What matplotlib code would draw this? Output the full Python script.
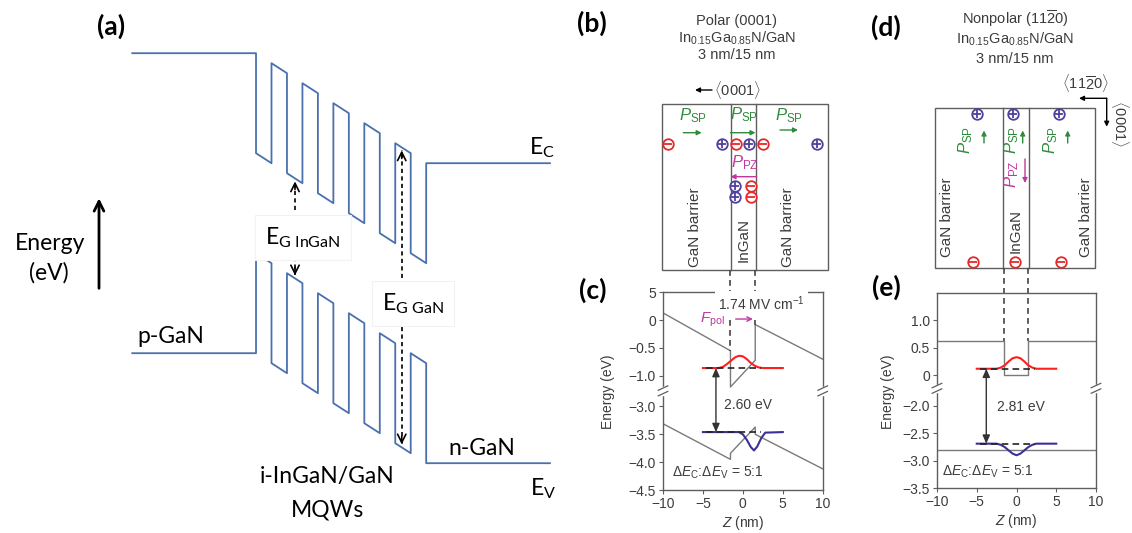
import matplotlib
matplotlib.use("Agg")
import matplotlib.pyplot as plt
from matplotlib import font_manager
from matplotlib.patches import Rectangle

W, H = 1132, 533

# (a) schematic p-i-n structure: layer boundaries, well flags, GaN Ec at each boundary
a_bounds = [-8, 0, 1, 2, 3, 4, 5, 6, 7, 8, 9, 10, 11, 19]
a_is_well = [0, 1, 0, 1, 0, 1, 0, 1, 0, 1, 0, 1, 0]
a_gan_ec = [0.0, 0.0, -0.1, -0.2, -0.3, -0.4, -0.5, -0.6, -0.7, -0.8, -0.9, -1.0, -1.1, -1.1]
a_gap_gan = 3.0
a_dec = 1.0
a_dev = 1.0
a_eg_ingan_x = 2.52
a_eg_gan_x = 9.42

# (c) polar (0001) well, z in nm, energy in eV
c_cb_z = [-10, -1.55, -1.55, 1.55, 1.55, 10]
c_cb_e = [0.13, -0.55, -1.20, -0.72, -0.08, -0.70]
c_vb_z = [-10, -1.55, -1.55, 1.55, 1.55, 10]
c_vb_e = [-3.31, -3.95, -3.84, -3.37, -3.50, -4.12]
c_e_level = -0.86
c_gap = 2.60
c_psi_e_z = [-5, -3, -2.5, -2, -1.5, -1, -0.5, 0, 0.5, 1, 1.5, 2, 2.5, 5]
c_psi_e = [-0.86, -0.86, -0.84, -0.79, -0.73, -0.67, -0.64, -0.65, -0.70, -0.77, -0.82, -0.85, -0.86, -0.86]
c_psi_h_z = [-5, -0.5, 0, 0.5, 1.0, 1.4, 1.8, 2.3, 2.8, 5]
c_psi_h = [-3.46, -3.46, -3.50, -3.60, -3.73, -3.79, -3.72, -3.57, -3.47, -3.46]
c_ticks = [0.5, 0, -0.5, -1.0, -3.0, -3.5, -4.0, -4.5]
c_ticklabels = ["5", "0", "\u22120.5", "\u22121.0", "\u22123.0", "\u22123.5", "\u22124.0", "\u22124.5"]

# (e) nonpolar (11-20) well
e_cb_z = [-10, -1.6, -1.6, 1.5, 1.5, 10]
e_cb_e = [0.63, 0.63, 0.0, 0.0, 0.63, 0.63]
e_vb_z = [-10, 10]
e_vb_e = [-2.81, -2.81]
e_e_level = 0.12
e_gap = 2.81
e_psi_z = [-5, -2.5, -2, -1.5, -1, -0.5, 0, 0.5, 1, 1.5, 2, 2.5, 5]
e_psi_e = [0.12, 0.12, 0.14, 0.18, 0.25, 0.31, 0.33, 0.31, 0.25, 0.18, 0.14, 0.12, 0.12]
e_psi_h = [-2.69, -2.69, -2.71, -2.75, -2.81, -2.87, -2.90, -2.87, -2.81, -2.75, -2.71, -2.69, -2.69]
e_ticks = [1.0, 0.5, 0, -2.0, -2.5, -3.0, -3.5]
e_ticklabels = ["1.0", "0.5", "0", "\u22122.0", "\u22122.5", "\u22123.0", "\u22123.5"]

# polarization charges in the two layer sketches (sign: +1 / -1)
b_charge_x = [668.3, 721.7, 735.7, 749.3, 763.3, 817.3, 735.0, 735.0, 750.7, 750.7]
b_charge_y = [144, 144, 144, 144, 144, 144, 186, 196.7, 186, 196.7]
b_charge_sign = [-1, 1, -1, 1, -1, 1, 1, 1, -1, -1]
d_charge_x = [976.7, 1013.3, 1059, 973, 1015, 1061]
d_charge_y = [114.3, 114.3, 114.3, 261.7, 261.7, 261.7]
d_charge_sign = [1, 1, 1, -1, -1, -1]

BREAK_SHIFT = 1.45   # lower band is drawn shifted up past the axis break

installed = {f.name for f in font_manager.fontManager.ttflist}
NARROW = "Liberation Sans Narrow" if "Liberation Sans Narrow" in installed else "Liberation Sans"
A_FONT = "Lato"

plt.rcParams["font.family"] = ["Liberation Sans", "DejaVu Sans"]
plt.rcParams["mathtext.fontset"] = "custom"
plt.rcParams["mathtext.rm"] = "Liberation Sans"
plt.rcParams["mathtext.it"] = "Liberation Sans:italic"
plt.rcParams["mathtext.bf"] = "Liberation Sans:bold"

BAND = "#4a70ad"
FRAME = "#5e5e5e"
LINE = "#7a7a7a"
TXT = "#3c3c3c"
GREEN = "#2f8a3c"
MAGENTA = "#c2379f"
RED_Q = "#e5292b"
BLUE_Q = "#50409e"
PSI_R = "#ff1f1f"
PSI_B = "#3b2f9a"


def brk(vals):
    return [v if v > -1.6 else v + BREAK_SHIFT for v in vals]


def arrow(ax, x0, y0, x1, y1, color, lw=1.0, style="-|>", ms=8, **kw):
    ax.annotate("", xy=(x1, y1), xytext=(x0, y0),
                arrowprops=dict(arrowstyle=style, color=color, lw=lw,
                                shrinkA=0, shrinkB=0, mutation_scale=ms), **kw)


def charge(ax, x, y, sign):
    col = RED_Q if sign < 0 else BLUE_Q
    ax.plot(x, y, "o", ms=7.6, mfc="white", mec=col, mew=1.3, zorder=5)
    ax.plot(x, y, "_" if sign < 0 else "+", ms=5.4, mec=col, mew=1.3, zorder=6)


def a_edges():
    xs, ec, ev = [], [], []
    for i, w in enumerate(a_is_well):
        for j in (i, i + 1):
            xs.append(a_bounds[j])
            ec.append(a_gan_ec[j] - a_dec * w)
            ev.append(a_gan_ec[j] - a_gap_gan + a_dev * w)
    return xs, ec, ev


def a_level(x, band):
    for i, w in enumerate(a_is_well):
        x0, x1 = a_bounds[i], a_bounds[i + 1]
        if x0 <= x <= x1:
            t = (x - x0) / (x1 - x0)
            ec = a_gan_ec[i] + t * (a_gan_ec[i + 1] - a_gan_ec[i])
            return ec - a_dec * w if band == "c" else ec - a_gap_gan + a_dev * w


def dashed_arrow(ax, x, y0, y1):
    ax.plot([x, x], [y0, y1], color="k", lw=1.2, ls=(0, (2.5, 2)), zorder=3)
    d = 0.08 if y1 > y0 else -0.08
    arrow(ax, x, y1 - d, x, y1, "k", lw=1.2, style="->,head_length=0.6,head_width=0.3", ms=10)


fig = plt.figure(figsize=(W / 100, H / 100), dpi=100)
ax0 = fig.add_axes([0, 0, 1, 1])
ax0.set_xlim(0, W)
ax0.set_ylim(H, 0)
ax0.axis("off")

# ---------------- (a) ----------------
axa = fig.add_axes([0, 0, 560 / W, 1])
axa.set_xlim(-16.55, 19.65)
axa.set_ylim(-4.798, 0.532)
axa.axis("off")
xs, ec, ev = a_edges()
axa.plot(xs, ec, color=BAND, lw=1.3)
axa.plot(xs, ev, color=BAND, lw=1.3)

big = dict(family=A_FONT, fontsize=16.5, color="k")
tip_c = a_level(a_eg_ingan_x, "c")
tip_v = a_level(a_eg_ingan_x, "v")
dashed_arrow(axa, a_eg_ingan_x, -1.57, tip_c - 0.03)
dashed_arrow(axa, a_eg_ingan_x, -2.04, tip_v + 0.03)
axa.text(3.04, -1.908, r"$\mathregular{E_{G\ InGaN}}$", ha="center", va="baseline", zorder=4,
         bbox=dict(boxstyle="square,pad=0.45", fc="white", ec="#f2f2f2", lw=0.8), **big)
tip_c = a_level(a_eg_gan_x, "c")
tip_v = a_level(a_eg_gan_x, "v")
dashed_arrow(axa, a_eg_gan_x, -2.25, tip_c - 0.03)
dashed_arrow(axa, a_eg_gan_x, -2.735, tip_v + 0.03)
axa.text(10.15, -2.568, r"$\mathregular{E_{G\ GaN}}$", ha="center", va="baseline", zorder=4,
         bbox=dict(boxstyle="square,pad=0.45", fc="white", ec="#f2f2f2", lw=0.8), **big)

arrow(axa, -10.15, -2.351, -10.15, -1.451, "k", lw=2.0,
      style="->,head_length=0.7,head_width=0.35", ms=10)
axa.text(-13.32, -1.968, "Energy", ha="center", va="baseline", **big)
axa.text(-13.38, -2.268, "(eV)", ha="center", va="baseline", **big)
axa.text(-9.34, 0.267, "(a)", ha="center", va="center", family=A_FONT,
         fontsize=19, fontweight="bold")
axa.text(-7.66, -2.898, "p-GaN", ha="left", va="baseline", **big)
axa.text(12.41, -4.018, "n-GaN", ha="left", va="baseline", **big)
axa.text(17.62, -1.008, r"$\mathregular{E_C}$", ha="left", va="baseline", **big)
axa.text(17.70, -4.418, r"$\mathregular{E_V}$", ha="left", va="baseline", **big)
axa.text(4.62, -4.295, "i-InGaN/GaN", ha="center", va="baseline", **big)
axa.text(4.62, -4.638, "MQWs", ha="center", va="baseline", **big)

# ---------------- (b) / (d) layer sketches ----------------
hdr = dict(ha="center", va="center", color=TXT, fontsize=10.5, family=[NARROW, "DejaVu Sans"])
lab = dict(ha="center", va="center", color=TXT, fontsize=11, family=[NARROW, "DejaVu Sans"],
           rotation=90)
pol = dict(ha="center", va="center", fontsize=12)

ax0.add_patch(Rectangle((661.7, 104), 166.3, 166, fill=False, ec=FRAME, lw=1.0))
for x in (730.5, 755.5):
    ax0.plot([x, x], [104, 270], color=FRAME, lw=1.0)
ax0.text(736.7, 20.7, "Polar (0001)", **hdr)
ax0.text(736.7, 38.3, r"In$_\mathregular{0.15}$Ga$_\mathregular{0.85}$N/GaN", **hdr)
ax0.text(736.7, 55, "3 nm/15 nm", **hdr)
arrow(ax0, 712, 90, 695, 90, "k", lw=1.0, ms=7)
ax0.text(714, 90, r"$\langle$0001$\rangle$", ha="left", va="center", color=TXT,
         fontsize=10.5, family=[NARROW, "DejaVu Sans"])
for x, y in ((693, 116), (744, 115), (789, 116)):
    ax0.text(x, y, r"$\mathit{P}_\mathregular{SP}$", color=GREEN, **pol)
arrow(ax0, 683.3, 132.7, 701.7, 132.7, GREEN, ms=7)
arrow(ax0, 730.5, 132.7, 755.5, 132.7, GREEN, ms=7)
arrow(ax0, 780, 130, 798, 130, GREEN, ms=7)
ax0.text(744.7, 163, r"$\mathit{P}_\mathregular{PZ}$", color=MAGENTA, **pol)
arrow(ax0, 756.7, 176.7, 730.5, 176.7, MAGENTA, ms=7)
for x, y, s in zip(b_charge_x, b_charge_y, b_charge_sign):
    charge(ax0, x, y, s)
ax0.text(695, 226.7, "GaN barrier", **lab)
ax0.text(743.3, 240, "InGaN", **lab)
ax0.text(788.3, 226.7, "GaN barrier", **lab)

ax0.add_patch(Rectangle((935, 108.3), 160, 160, fill=False, ec=FRAME, lw=1.0))
for x in (1002.5, 1028.5):
    ax0.plot([x, x], [108.3, 268.3], color=FRAME, lw=1.0)
ax0.text(1015, 18.3, r"Nonpolar (11$\mathregular{\overline{2}}$0)", **hdr)
ax0.text(1015, 39, r"In$_\mathregular{0.15}$Ga$_\mathregular{0.85}$N/GaN", **hdr)
ax0.text(1015, 59.3, "3 nm/15 nm", **hdr)
ax0.text(1085, 83.3, r"$\langle$11$\mathregular{\overline{2}}$0$\rangle$", **hdr)
arrow(ax0, 1106.7, 98.3, 1079, 98.3, "k", lw=1.0, ms=7)
arrow(ax0, 1106.7, 98.3, 1106.7, 126.7, "k", lw=1.0, ms=7)
ax0.text(1120, 123, r"$\langle$0001$\rangle$", ha="center", va="center", color=TXT,
         fontsize=10.5, family=[NARROW, "DejaVu Sans"], rotation=270)
for x, xa in ((966, 984), (1012, 1022.7), (1051, 1067.7)):
    ax0.text(x, 140, r"$\mathit{P}_\mathregular{SP}$", color=GREEN, rotation=90, **pol)
    arrow(ax0, xa, 143, xa, 130.5, GREEN, ms=7)
ax0.text(1012, 174, r"$\mathit{P}_\mathregular{PZ}$", color=MAGENTA, rotation=90, **pol)
arrow(ax0, 1025, 159, 1025, 183, MAGENTA, ms=7)
for x, y, s in zip(d_charge_x, d_charge_y, d_charge_sign):
    charge(ax0, x, y, s)
ax0.text(946.7, 217.5, "GaN barrier", **lab)
ax0.text(1015.7, 230.8, "InGaN", **lab)
ax0.text(1086, 217.5, "GaN barrier", **lab)

panel = dict(ha="center", va="center", family=A_FONT, fontsize=19, fontweight="bold")
ax0.text(592, 23.5, "(b)", **panel)
ax0.text(593, 290, "(c)", **panel)
ax0.text(886, 27.5, "(d)", **panel)
ax0.text(886, 287, "(e)", **panel)


# ---------------- (c) / (e) band profiles ----------------
def style_axes(ax, ticks, labels, ylim, ubreak, ylab_x):
    ax.set_facecolor("none")
    ax.set_xlim(-10, 10)
    ax.set_ylim(*ylim)
    ax.set_xticks([-10, -5, 0, 5, 10])
    ax.set_xticklabels(["\u221210", "\u22125", "0", "5", "10"])
    ax.set_yticks(brk(ticks))
    ax.set_yticklabels(labels)
    for s in ax.spines.values():
        s.set_color(FRAME)
        s.set_linewidth(1.0)
    ax.tick_params(direction="out", length=3, width=0.8, color=FRAME,
                   labelcolor=TXT, labelsize=10, pad=2)
    ax.text(ylab_x, 0.495, "Energy (eV)", transform=ax.transAxes, rotation=90,
            ha="center", va="center", color=TXT, fontsize=10)
    ax.text(0.5, -0.165, r"$\mathit{Z}$ (nm)", transform=ax.transAxes,
            ha="center", va="center", color=TXT, fontsize=10)
    tr = ax.get_yaxis_transform()
    for xa in (0, 1):
        ax.plot([xa, xa], [ubreak - 0.05, ubreak + 0.05], color="white", lw=2.5,
                transform=tr, clip_on=False, zorder=4)
        for d in (-0.05, 0.05):
            ax.plot([xa - 0.03, xa + 0.03], [ubreak + d - 0.04, ubreak + d + 0.04],
                    color=FRAME, lw=0.9, transform=tr, clip_on=False, zorder=5)


def draw_levels(ax, z_arrow, e_level, gap, pz, pe, ph_z, ph):
    h_level = e_level - gap
    ax.plot(pz, brk(pe), color=PSI_R, lw=1.5, zorder=3)
    ax.plot(ph_z, brk(ph), color=PSI_B, lw=1.5, zorder=3)
    for lev in (e_level, h_level):
        ax.plot([-4.6, 2.3], brk([lev, lev]), color="#222222", lw=1.2,
                ls=(0, (4, 2.5)), zorder=4)
    u = brk([e_level, h_level])
    arrow(ax, z_arrow, u[0], z_arrow, u[1], "#333333", lw=1.0,
          style="<|-|>,head_length=0.5,head_width=0.22", ms=10)


axc = fig.add_axes([663 / W, (H - 490) / H, 159.7 / W, 197.7 / H])
style_axes(axc, c_ticks, c_ticklabels, (-3.05, 0.5), -1.27, -0.344)
axc.plot(c_cb_z, brk(c_cb_e), color=LINE, lw=1.0)
axc.plot(c_vb_z, brk(c_vb_e), color=LINE, lw=1.0)
draw_levels(axc, -3.37, c_e_level, c_gap, c_psi_e_z, c_psi_e, c_psi_h_z, c_psi_h)
for z, u_end in ((-1.55, -0.55), (1.55, -0.08)):
    axc.plot([z, z], [0.9, u_end], color="#444444", lw=1.2, ls=(0, (3.5, 2.5)),
             clip_on=False, zorder=2)
axc.text(2.35, 0.30, r"1.74 MV cm$^{\mathregular{-1}}$", ha="center", va="center",
         color=TXT, fontsize=10, zorder=6,
         bbox=dict(boxstyle="square,pad=0.25", fc="white", ec="none"))
axc.text(-3.75, 0.01, r"$\mathit{F}_\mathregular{pol}$", ha="center", va="center",
         color=MAGENTA, fontsize=11, zorder=6)
arrow(axc, -0.9, 0.02, 1.25, 0.02, MAGENTA, lw=1.0, style="->", ms=8, zorder=6)
axc.text(-2.4, -1.52, "%.2f eV" % c_gap, ha="left", va="center", color=TXT, fontsize=10)
axc.text(-8.9, -2.75, r"Δ$\mathit{E}_\mathregular{C}$:Δ$\mathit{E}_\mathregular{V}$ = 5:1",
         ha="left", va="center", color=TXT, fontsize=10)

axe = fig.add_axes([937 / W, (H - 488.3) / H, 159 / W, 195.6 / H])
style_axes(axe, e_ticks, e_ticklabels, (-2.05, 1.5), -0.235, -0.306)
axe.plot(e_cb_z, brk(e_cb_e), color=LINE, lw=1.0)
axe.plot(e_vb_z, brk(e_vb_e), color=LINE, lw=1.0)
draw_levels(axe, -3.8, e_e_level, e_gap, e_psi_z, e_psi_e, e_psi_z, e_psi_h)
for z in (-1.6, 1.5):
    axe.plot([z, z], [1.94, 0.63], color="#444444", lw=1.2, ls=(0, (3.5, 2.5)),
             clip_on=False, zorder=2)
axe.text(-2.5, -0.57, "%.2f eV" % e_gap, ha="left", va="center", color=TXT, fontsize=10)
axe.text(-9.4, -1.75, r"Δ$\mathit{E}_\mathregular{C}$:Δ$\mathit{E}_\mathregular{V}$ = 5:1",
         ha="left", va="center", color=TXT, fontsize=10)

fig.savefig("out.png", dpi=100)
